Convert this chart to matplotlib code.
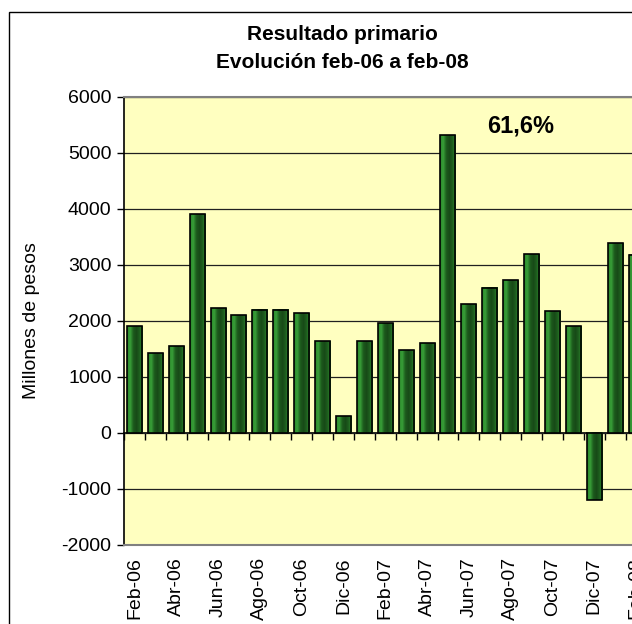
import numpy as np
import matplotlib
matplotlib.use("Agg")
import matplotlib.pyplot as plt
from matplotlib.colors import LinearSegmentedColormap
from matplotlib.patches import Rectangle

plt.rcParams['font.family'] = ['Liberation Sans', 'DejaVu Sans']
plt.rcParams['axes.unicode_minus'] = False

months = ["Feb-06", "Mar-06", "Abr-06", "May-06", "Jun-06", "Jul-06", "Ago-06",
          "Sep-06", "Oct-06", "Nov-06", "Dic-06", "Ene-07", "Feb-07", "Mar-07",
          "Abr-07", "May-07", "Jun-07", "Jul-07", "Ago-07", "Sep-07", "Oct-07",
          "Nov-07", "Dic-07", "Ene-08", "Feb-08"]
resultado = [1900, 1420, 1550, 3900, 2230, 2100, 2200, 2200, 2130, 1640, 300,
             1640, 1960, 1480, 1600, 5310, 2290, 2590, 2730, 3190, 2170, 1900,
             -1210, 3380, 3180]
y_ticks = [-2000, -1000, 0, 1000, 2000, 3000, 4000, 5000, 6000]
note = "61,6%"

W, H = 632, 624
fig = plt.figure(figsize=(W / 100, H / 100), dpi=100)
fig.patch.set_facecolor('white')

# outer chart frame (cropped on the right and bottom)
fig.patches.append(Rectangle((9 / W, -0.1), 1.2, (H - 12) / H + 0.1,
                             transform=fig.transFigure, fill=False,
                             edgecolor='black', linewidth=1.0))

left, right = 124, 646.5
top, bottom = 96.7, 544.7
ax = fig.add_axes([left / W, (H - bottom) / H, (right - left) / W, (bottom - top) / H])
ax.set_facecolor('#FFFFC0')

x = np.arange(len(months))
bars = ax.bar(x, resultado, width=0.72, facecolor='none', edgecolor='black',
              linewidth=1.2, zorder=4)

# cylinder-like shading of the bars
shade = LinearSegmentedColormap.from_list(
    'shade', ['#2a842a', '#38a038', '#1d5a1d', '#174a17', '#1f601f', '#2f8f2f'])
grad = np.linspace(0, 1, 64).reshape(1, -1)
for b in bars:
    bx, by = b.get_x(), b.get_y()
    bw, bh = b.get_width(), b.get_height()
    ax.imshow(grad, extent=[bx, bx + bw, by, by + bh], aspect='auto',
              cmap=shade, zorder=3, interpolation='bilinear')

ax.set_xlim(-0.5, len(months) - 0.5)
ax.set_ylim(-2000, 6000)
ax.set_yticks(y_ticks)
ax.yaxis.grid(True, color='#202020', linewidth=0.9, zorder=1)
ax.set_axisbelow(True)

ax.set_xticks(x[::2])
ax.set_xticklabels(months[::2], rotation=90, fontsize=14)
ax.tick_params(axis='x', length=0, pad=9)
ax.tick_params(axis='y', direction='out', length=5, width=1, labelsize=14, pad=4)

for s in ['top', 'bottom']:
    ax.spines[s].set_color('#808080')
    ax.spines[s].set_linewidth(1.5)
ax.spines['right'].set_visible(False)
ax.spines['left'].set_color('black')
ax.spines['left'].set_linewidth(1.2)

# category axis crossing at zero with tick marks between categories
zero_frac = (0 - y_ticks[0]) / (y_ticks[-1] - y_ticks[0])
sec = ax.secondary_xaxis(zero_frac)
sec.set_xticks(np.arange(len(months) + 1) - 0.5)
sec.set_xticklabels([])
sec.tick_params(direction='out', length=5, width=1, color='black')
sec.spines['bottom'].set_color('black')
sec.spines['bottom'].set_linewidth(1.2)

ax.set_ylabel("Millones de pesos", fontsize=14)
ax.yaxis.set_label_coords(-0.16, 0.5)

ax.text(18.5, 5480, note, fontsize=17, fontweight='bold', ha='center', va='center')

fig.text(342 / W, 1 - 40 / H, "Resultado primario", fontsize=15,
         fontweight='bold', ha='center', va='baseline')
fig.text(342 / W, 1 - 68 / H, "Evolución feb-06 a feb-08", fontsize=15,
         fontweight='bold', ha='center', va='baseline')

fig.savefig("out.png", dpi=100)
